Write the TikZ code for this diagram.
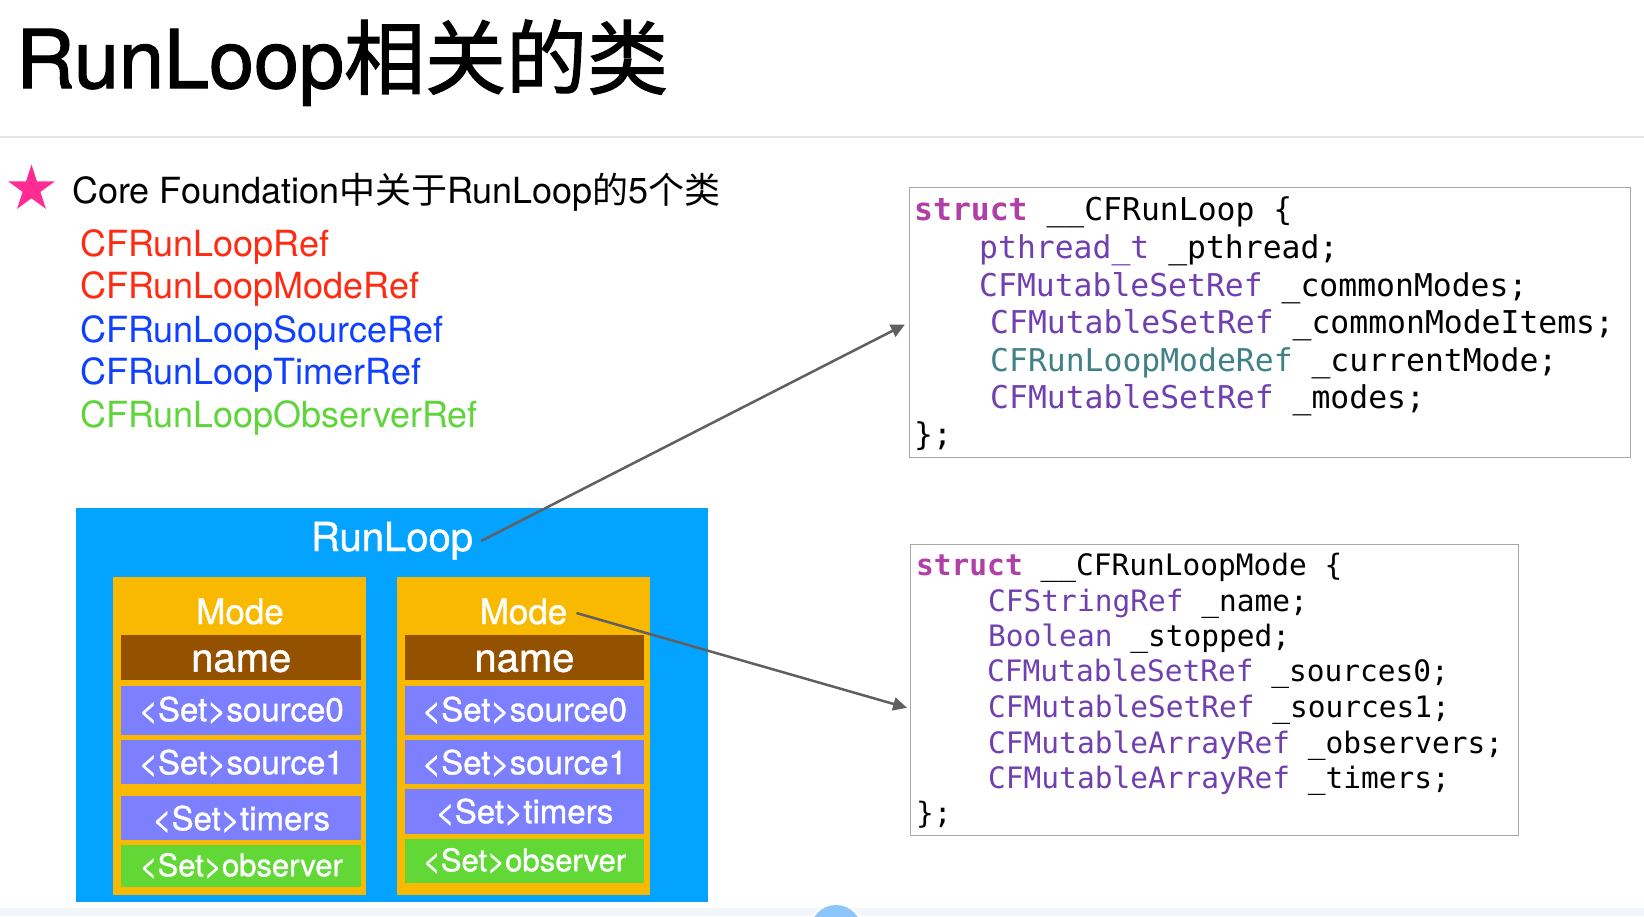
\documentclass[tikz,border=0pt]{standalone}
\usepackage{fontspec}
\setmainfont{TeX Gyre Heros}
\newfontfamily\cjk{Noto Sans CJK SC}
\newfontfamily\titlefont[FakeBold=1.5]{TeX Gyre Heros}
\newfontfamily\titlecjk[FakeBold=1.5]{Noto Sans CJK SC}
\newfontfamily\boxfont[FakeBold=1.1]{TeX Gyre Heros}
\newfontfamily\code{DejaVu Sans Mono}
\usetikzlibrary{arrows.meta,shapes.geometric}
\definecolor{rlblue}{HTML}{03A3FF}
\definecolor{modeor}{HTML}{F9B900}
\definecolor{namebr}{HTML}{945200}
\definecolor{srcpu}{HTML}{7C80FF}
\definecolor{obsgr}{HTML}{61D836}
\definecolor{lred}{HTML}{FF2A12}
\definecolor{lblue}{HTML}{1040FF}
\definecolor{lgreen}{HTML}{5FD43B}
\definecolor{starpk}{HTML}{FF2D93}
\definecolor{kwc}{HTML}{B040A6}
\definecolor{tyc}{HTML}{7040B0}
\definecolor{tlc}{HTML}{3F8185}
\definecolor{arrc}{HTML}{606060}
\definecolor{boxln}{HTML}{A8A8A8}
\definecolor{rulec}{HTML}{E4E4E4}
\definecolor{stripc}{HTML}{F2F5F9}
\definecolor{dotc}{HTML}{8CC6FA}
\newcommand{\kw}[1]{\textcolor{kwc}{\bfseries #1}}
\newcommand{\ty}[1]{\textcolor{tyc}{#1}}
\newcommand{\tl}[1]{\textcolor{tlc}{#1}}
\newcommand{\fsz}[1]{\fontsize{#1}{#1}\selectfont}
\begin{document}
\begin{tikzpicture}[x=1pt,y=-1pt,
  txt/.style={inner sep=0pt, anchor=base west},
  listitem/.style={txt, font=\fsz{36}},
  cellbox/.style={inner sep=0pt, anchor=north west, text=white, text depth=0pt},
  filledbox/.style={inner sep=0pt, anchor=north west, draw=none},
  codebox/.style={inner sep=0pt, anchor=north west, draw=boxln, line width=1.3pt, fill=white},
  codeA/.style={txt, font=\code\fsz{31.4}},
  codeB/.style={txt, font=\code\fsz{29.5}},
  modelabel/.style={inner ysep=0pt, inner xsep=9pt, anchor=base, text=white, text height=22pt, text depth=0pt, font=\boxfont\fsz{35}},
  pointer/.style={draw=arrc, line width=2.5pt, -{Triangle[length=14pt,width=13pt]}}
]
\useasboundingbox (0,0) rectangle (1644,916);
\fill[white] (0,0) rectangle (1644,916);

% title and rule
\node[txt, font=\fsz{81}] (title) at (16,88) {\titlefont RunLoop{\titlecjk 相关的类}};
\draw[rulec, line width=1.8pt] (0,137) -- (1644,137);

% star and list
\node[star, star points=5, star point ratio=2.618, minimum size=49pt, inner sep=0pt, fill=starpk] (star) at (31.5,189) {};
\node[txt, font=\fsz{36}] (head) at (72,203) {Core Foundation{\cjk 中关于}RunLoop{\cjk 的}5{\cjk 个类}};
\node[listitem, text=lred] (l1) at (80,256) {CFRunLoopRef};
\node[listitem, text=lred] (l2) at (80,298) {CFRunLoopModeRef};
\node[listitem, text=lblue] (l3) at (80,342) {CFRunLoopSourceRef};
\node[listitem, text=lblue] (l4) at (80,384) {CFRunLoopTimerRef};
\node[listitem, text=lgreen] (l5) at (80,427) {CFRunLoopObserverRef};

% RunLoop box
\node[filledbox, fill=rlblue, minimum width=632pt, minimum height=394pt] (rlbox) at (76,508) {};
\node[inner ysep=0pt, inner xsep=8pt, anchor=base, text=white, text height=20pt, text depth=0pt, font=\boxfont\fsz{40}] (rl) at (392,551) {RunLoop};

% left mode
\node[filledbox, fill=modeor, minimum width=253pt, minimum height=318pt] (lmodebox) at (113,577) {};
\node[modelabel] (lmode) at (240,624) {Mode};
\node[cellbox, fill=namebr, minimum width=240pt, minimum height=45pt, text height=28pt, font=\boxfont\fsz{40}] (lname) at (121,635) {name};
\node[cellbox, fill=srcpu, minimum width=240pt, minimum height=49pt, text height=21pt, font=\boxfont\fsz{33}] (ls0) at (121,686) {<Set>source0};
\node[cellbox, fill=srcpu, minimum width=240pt, minimum height=44pt, text height=24pt, font=\boxfont\fsz{33}] (ls1) at (121,740) {<Set>source1};
\node[cellbox, fill=srcpu, minimum width=240pt, minimum height=44pt, text height=24pt, font=\boxfont\fsz{33}] (ltm) at (121,796) {<Set>timers};
\node[cellbox, fill=obsgr, minimum width=240pt, minimum height=42pt, text height=20pt, font=\boxfont\fsz{31}] (lob) at (121,845) {<Set>observer};

% right mode
\node[filledbox, fill=modeor, minimum width=253pt, minimum height=318pt] (rmodebox) at (397,577) {};
\node[modelabel] (rmode) at (523.5,624) {Mode};
\node[cellbox, fill=namebr, minimum width=238.5pt, minimum height=45pt, text height=28pt, font=\boxfont\fsz{40}] (rname) at (405,635) {name};
\node[cellbox, fill=srcpu, minimum width=238.5pt, minimum height=49pt, text height=21pt, font=\boxfont\fsz{33}] (rs0) at (405,686) {<Set>source0};
\node[cellbox, fill=srcpu, minimum width=238.5pt, minimum height=44pt, text height=24pt, font=\boxfont\fsz{33}] (rs1) at (405,740) {<Set>source1};
\node[cellbox, fill=srcpu, minimum width=238.5pt, minimum height=45pt, text height=23pt, font=\boxfont\fsz{33}] (rtm) at (405,789) {<Set>timers};
\node[cellbox, fill=obsgr, minimum width=238.5pt, minimum height=44pt, text height=20pt, font=\boxfont\fsz{31}] (rob) at (405,839) {<Set>observer};

% code box 1
\node[codebox, minimum width=721.5pt, minimum height=270pt] (box1) at (908.5,187) {};
\node[codeA] (c1a) at (914,220) {\kw{struct} \_\_CFRunLoop \{};
\node[codeA] (c1b) at (979,258) {\ty{pthread\_t} \_pthread;};
\node[codeA] (c1c) at (979,296) {\ty{CFMutableSetRef} \_commonModes;};
\node[codeA] (c1d) at (990,333) {\ty{CFMutableSetRef} \_commonModeItems;};
\node[codeA] (c1e) at (990,371) {\tl{CFRunLoopModeRef} \_currentMode;};
\node[codeA] (c1f) at (990,408) {\ty{CFMutableSetRef} \_modes;};
\node[codeA] (c1g) at (914,445) {\};};

% code box 2
\node[codebox, minimum width=608pt, minimum height=291pt] (box2) at (910,544) {};
\node[codeB] (c2a) at (916,575) {\kw{struct} \_\_CFRunLoopMode \{};
\node[codeB] (c2b) at (988,611) {\ty{CFStringRef} \_name;};
\node[codeB] (c2c) at (988,646) {\ty{Boolean} \_stopped;};
\node[codeB] (c2d) at (987,681) {\ty{CFMutableSetRef} \_sources0;};
\node[codeB] (c2e) at (988,717) {\ty{CFMutableSetRef} \_sources1;};
\node[codeB] (c2f) at (988,753) {\ty{CFMutableArrayRef} \_observers;};
\node[codeB] (c2g) at (988,788) {\ty{CFMutableArrayRef} \_timers;};
\node[codeB] (c2h) at (916,823) {\};};

% connectors
\draw[pointer, shorten >=4pt] (rl.east) -- (box1.west);
\draw[pointer, shorten >=3pt] (rmode.east) -- ([yshift=-18.5pt]box2.west);

% bottom screenshot strip
\fill[stripc] (0,908) rectangle (1644,916);
\fill[white] (836,930.5) circle (27.5);
\fill[dotc] (836,930.5) circle (25.5);
\end{tikzpicture}
\end{document}
